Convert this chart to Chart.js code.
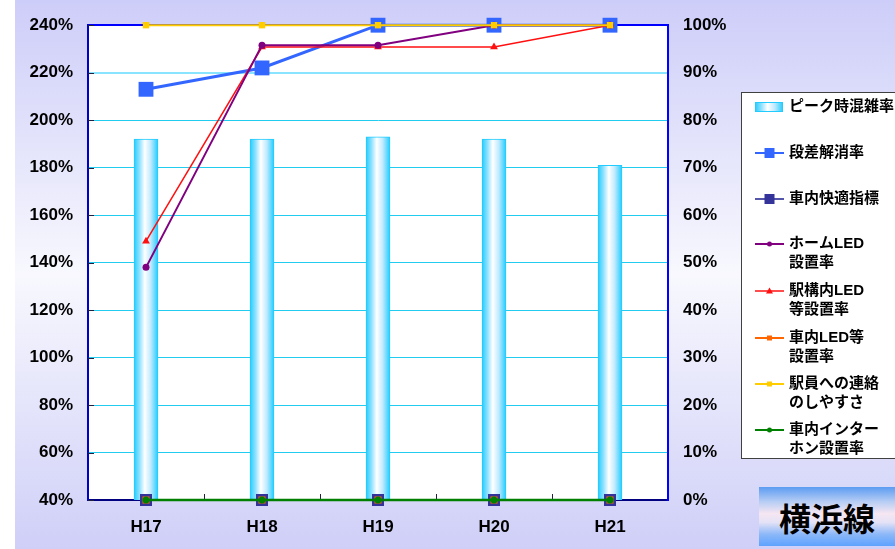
<!DOCTYPE html>
<html>
<head>
<meta charset="utf-8">
<script src="https://cdn.jsdelivr.net/npm/chart.js@4/dist/chart.umd.min.js"></script>
<style>
  html, body { margin: 0; padding: 0; background: #fff; }
  #wrap { position: relative; width: 895px; height: 549px; }
  #title {
    position: absolute; left: 759px; top: 487px; width: 136px; height: 59px;
    background: linear-gradient(to bottom, #5b9cf2 0%, #b7cdf4 25%, #f6e6f2 45%, #e4e2f6 60%, #8cb8f8 80%, #5ea2ff 100%);
    font: bold 32px "Noto Sans CJK JP", sans-serif; color: #000;
    display: flex; align-items: center; justify-content: center;
  }
</style>
</head>
<body>
<div id="wrap">
  <canvas id="c" width="895" height="549"></canvas>
  <div id="title">横浜線</div>
</div>
<script>
  // data
  var years = ['H17', 'H18', 'H19', 'H20', 'H21'];
  var peakRate = [192, 192, 193, 192, 181];          // left axis
  var stepRate = [86.5, 91, 100, 100, 100];          // right axis from here on
  var comfortIdx = [0, 0, 0, 0, 0];
  var homeLed = [49, 95.8, 95.8, 100, 100];
  var stationLed = [54.5, 95.4, 95.4, 95.4, 100];
  var carLed = [0, 0, 0, 0, 0];
  var staffContact = [100, 100, 100, 100, 100];
  var interphone = [0, 0, 0, 0, 0];

  var legendLabels = [
    ['ピーク時混雑率'], ['段差解消率'], ['車内快適指標'],
    ['ホームLED', '設置率'], ['駅構内LED', '等設置率'], ['車内LED等', '設置率'],
    ['駅員への連絡', 'のしやすさ'], ['車内インター', 'ホン設置率']
  ];
  var legendY = [107, 153, 199, 244, 291, 338, 384, 430];

  function barFill(c) {
    var chart = c.chart;
    if (!chart.chartArea || c.dataIndex === undefined) return '#aaeeff';
    var x = chart.scales.x.getPixelForValue(c.dataIndex);
    return cyanGrad(chart.ctx, x - 12, x + 12);
  }
  function cyanGrad(ctx, x0, x1) {
    var g = ctx.createLinearGradient(x0, 0, x1, 0);
    g.addColorStop(0, '#22ccff');
    g.addColorStop(0.25, '#99e4ff');
    g.addColorStop(0.45, '#ffffff');
    g.addColorStop(0.7, '#bfeaff');
    g.addColorStop(1, '#22ccff');
    return g;
  }

  function lineSet(label, data, color, width, style, radius, order) {
    return {
      type: 'line', label: label, data: data, yAxisID: 'y1',
      borderColor: color, backgroundColor: color, borderWidth: width,
      pointStyle: style, pointRadius: radius, pointBorderWidth: 0,
      pointBackgroundColor: color, tension: 0, clip: false, order: order
    };
  }

  var bgPlugin = {
    id: 'bg',
    beforeDraw: function (chart) {
      var ctx = chart.ctx, a = chart.chartArea;
      var g = ctx.createLinearGradient(0, 0, 0, 549);
      g.addColorStop(0, '#cdcdf9');
      g.addColorStop(0.5, '#f8f8fe');
      g.addColorStop(1, '#cfcff8');
      ctx.save();
      ctx.fillStyle = '#fff';
      ctx.fillRect(0, 0, 895, 549);
      ctx.fillStyle = g;
      ctx.fillRect(15, 0, 880, 549);
      ctx.fillStyle = '#fff';
      ctx.fillRect(a.left, a.top, a.right - a.left, a.bottom - a.top);
      ctx.restore();
    },
    beforeDatasetsDraw: function (chart) {
      // inward tick marks
      var ctx = chart.ctx, a = chart.chartArea, y = chart.scales.y, x = chart.scales.x;
      ctx.save();
      ctx.strokeStyle = '#202040';
      ctx.lineWidth = 1;
      y.ticks.forEach(function (t) {
        var py = Math.round(y.getPixelForValue(t.value)) + 0.5;
        ctx.beginPath(); ctx.moveTo(a.left, py); ctx.lineTo(a.left + 6, py); ctx.stroke();
      });
      for (var i = 0; i < years.length - 1; i++) {
        var px = Math.round((x.getPixelForValue(i) + x.getPixelForValue(i + 1)) / 2) + 0.5;
        ctx.beginPath(); ctx.moveTo(px, a.bottom); ctx.lineTo(px, a.bottom - 6); ctx.stroke();
      }
      ctx.restore();
    },
    afterDraw: function (chart) {
      var ctx = chart.ctx;
      ctx.save();
      ctx.fillStyle = '#fff';
      ctx.fillRect(741, 92, 160, 367);
      ctx.strokeStyle = '#404040';
      ctx.lineWidth = 1;
      ctx.strokeRect(741.5, 92.5, 160, 366);
      var sets = chart.data.datasets;
      for (var i = 0; i < legendLabels.length; i++) {
        var ly = legendY[i], ds = sets[i];
        if (i === 0) {
          ctx.fillStyle = cyanGrad(ctx, 755, 783);
          ctx.fillRect(755, ly - 5, 28, 10);
          ctx.strokeStyle = '#22ccff';
          ctx.strokeRect(755.5, ly - 4.5, 27, 9);
        } else {
          ctx.strokeStyle = ds.borderColor;
          ctx.lineWidth = Math.min(ds.borderWidth, 2);
          ctx.beginPath(); ctx.moveTo(755, ly); ctx.lineTo(784, ly); ctx.stroke();
          ctx.fillStyle = ds.pointBackgroundColor;
          var r = i <= 2 ? 5 : 2.5;
          ctx.beginPath();
          if (ds.pointStyle === 'rect') ctx.rect(769.5 - r, ly - r, 2 * r, 2 * r);
          else if (ds.pointStyle === 'triangle') { ctx.moveTo(769.5, ly - 3.5); ctx.lineTo(773, ly + 2.5); ctx.lineTo(766, ly + 2.5); ctx.closePath(); }
          else ctx.arc(769.5, ly, r, 0, Math.PI * 2);
          ctx.fill();
        }
        ctx.fillStyle = '#000';
        ctx.font = 'bold 15px "Liberation Sans", "Noto Sans CJK JP", sans-serif';
        ctx.textBaseline = 'middle';
        ctx.textAlign = 'left';
        legendLabels[i].forEach(function (s, k) {
          ctx.fillText(s, 789, ly + k * 19);
        });
      }
      ctx.restore();
    }
  };

  var tickFont = { family: '"Liberation Sans", Arial, sans-serif', size: 17, weight: 'bold' };

  new Chart(document.getElementById('c').getContext('2d'), {
    data: {
      labels: years,
      datasets: [
        { type: 'bar', label: 'ピーク時混雑率', data: peakRate, yAxisID: 'y',
          backgroundColor: barFill, borderColor: '#22ccff', borderWidth: 1,
          barThickness: 24, order: 10 },
        lineSet('段差解消率', stepRate, '#3366ff', 3, 'rect', 10.5, 9),
        Object.assign(lineSet('車内快適指標', comfortIdx, '#5555aa', 2, 'rect', 8.5, 8), { pointBackgroundColor: '#333399' }),
        lineSet('ホームLED設置率', homeLed, '#800080', 2, 'circle', 3.5, 6),
        lineSet('駅構内LED等設置率', stationLed, '#ff1010', 1.5, 'triangle', 4.5, 7),
        lineSet('車内LED等設置率', carLed, '#ff6600', 2, 'rect', 5, 5),
        lineSet('駅員への連絡のしやすさ', staffContact, '#ffcc00', 2, 'rect', 4.5, 4),
        lineSet('車内インターホン設置率', interphone, '#008000', 2.5, 'circle', 3.5, 3)
      ]
    },
    options: {
      responsive: false,
      animation: false,
      events: [],
      layout: { padding: { left: 0, top: 24, right: 147, bottom: 0 } },
      plugins: { legend: { display: false }, tooltip: { enabled: false } },
      scales: {
        x: {
          offset: true,
          grid: { display: false, drawTicks: false },
          border: { display: true, color: '#000080', width: 2 },
          ticks: { color: '#000', font: tickFont, padding: 17 },
          afterFit: function (s) { s.height = 49; }
        },
        y: {
          position: 'left', min: 40, max: 240,
          ticks: { stepSize: 20, color: '#000', font: tickFont, padding: 15,
                   callback: function (v) { return v + '%'; } },
          grid: {
            drawTicks: false,
            color: function (c) { return c.tick && c.tick.value === 240 ? '#0000ff' : (c.tick && c.tick.value === 220 ? '#88e4ff' : '#22ccee'); },
            lineWidth: function (c) { return c.tick && (c.tick.value === 240 || c.tick.value === 220) ? 2 : 1; }
          },
          border: { color: '#0000cc', width: 2 },
          afterFit: function (s) { s.width = 88; }
        },
        y1: {
          position: 'right', min: 0, max: 100,
          ticks: { stepSize: 10, color: '#000', font: tickFont, padding: 15,
                   callback: function (v) { return v + '%'; } },
          grid: { display: false, drawTicks: false },
          border: { color: '#0000ff', width: 2 },
          afterFit: function (s) { s.width = 80; }
        }
      }
    },
    plugins: [bgPlugin]
  });
</script>
</body>
</html>
